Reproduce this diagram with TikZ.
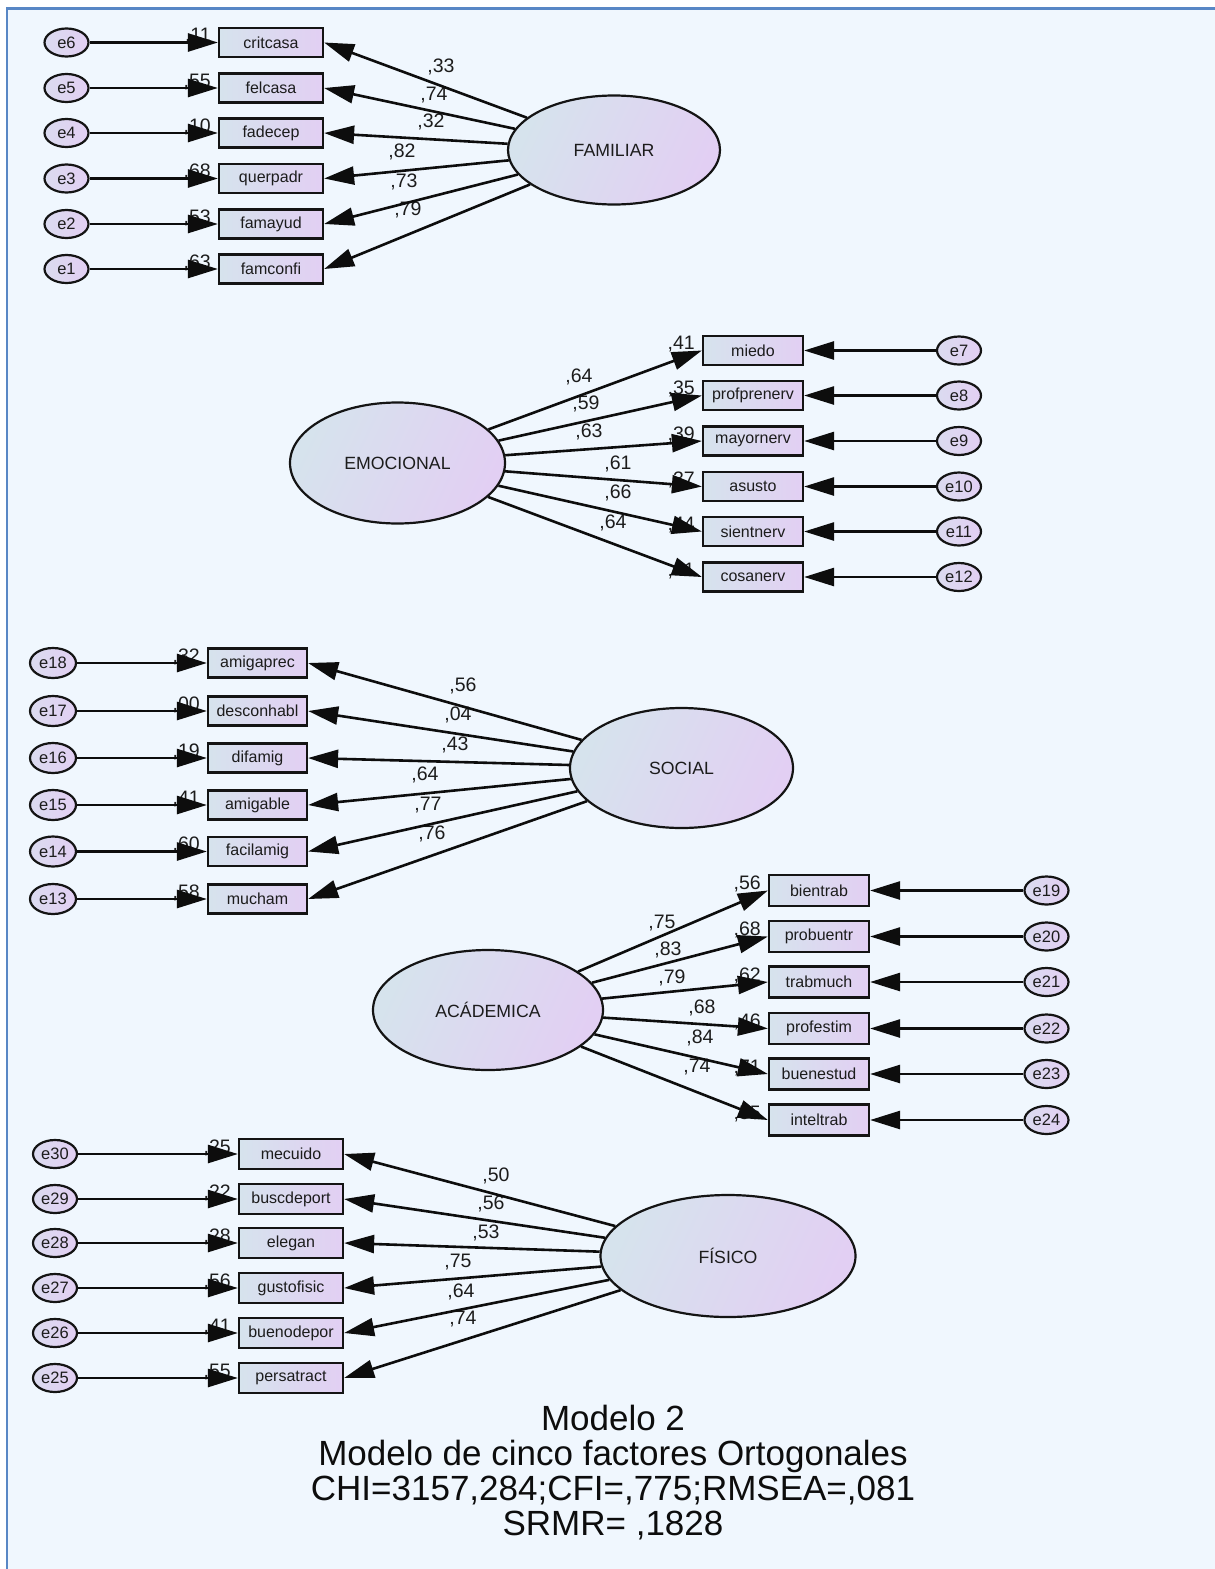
\documentclass[tikz,border=0pt]{standalone}
\usepackage{fontspec}
\setmainfont{Liberation Sans}
\usetikzlibrary{arrows.meta,shapes.geometric}
\definecolor{bg}{RGB}{240,247,254}
\definecolor{framecol}{RGB}{88,135,197}
\definecolor{shadeA}{RGB}{214,227,237}
\definecolor{shadeB}{RGB}{226,207,243}
\definecolor{ink}{RGB}{28,28,28}
\tikzset{
  obs/.style={rectangle, draw=black!92, line width=2.2pt, minimum width=104pt,
    minimum height=29pt, inner sep=0pt, shading=axis, left color=shadeA,
    right color=shadeB, text=ink, font=\fontsize{16}{18}\selectfont},
  lat/.style={ellipse, draw=black!92, line width=2.2pt, inner sep=0pt,
    shading=axis, left color=shadeA, right color=shadeB, shading angle=65,
    text=ink, font=\fontsize{17.7}{20}\selectfont},
  err/.style={ellipse, draw=black!92, line width=2.2pt, inner sep=0pt,
    minimum width=44pt, minimum height=28pt, shading=axis,
    left color=shadeA!60!shadeB, right color=shadeB, text=ink,
    font=\fontsize{16.5}{18}\selectfont},
  arr/.style={-{Triangle[length=30pt,width=18pt]}, line width=2.6pt, draw=black!95},
  ld/.style={anchor=base, inner sep=0pt, text=ink, font=\fontsize{19.5}{22}\selectfont},
  rsq/.style={anchor=base east, inner sep=0pt, xshift=-7pt, yshift=1pt, text=ink,
    font=\fontsize{19.5}{22}\selectfont},
  ttl/.style={anchor=base, inner sep=0pt, text=black!95, font=\fontsize{35}{40}\selectfont}
}
\begin{document}
\begin{tikzpicture}[x=1pt,y=-1pt]
\useasboundingbox (0,0) rectangle (1215,1569);
% canvas and frame
\fill[white] (0,0) rectangle (1215,1569);
\fill[bg] (7,8.5) rectangle (1215,1569);
\draw[framecol, line width=2.2pt] (7,1569) -- (7,8.5) -- (1215,8.5);

% ---------- FAMILIAR ----------
\node[lat, minimum width=212pt, minimum height=109pt] (fam) at (614,150) {FAMILIAR};
\node[obs] (f1) at (271,42.5) {critcasa};
\node[obs] (f2) at (271,88) {felcasa};
\node[obs] (f3) at (271,133) {fadecep};
\node[obs] (f4) at (271,178.5) {querpadr};
\node[obs] (f5) at (271,224) {famayud};
\node[obs] (f6) at (271,269) {famconfi};
\node[err] (e6) at (66.5,42.5) {e6};
\node[err] (e5) at (66.5,88) {e5};
\node[err] (e4) at (66.5,133) {e4};
\node[err] (e3) at (66.5,178.5) {e3};
\node[err] (e2) at (66.5,224) {e2};
\node[err] (e1) at (66.5,269) {e1};
\node[rsq] (rf1) at (f1.west) {,11};
\node[rsq] (rf2) at (f2.west) {,55};
\node[rsq] (rf3) at (f3.west) {,10};
\node[rsq] (rf4) at (f4.west) {,68};
\node[rsq] (rf5) at (f5.west) {,53};
\node[rsq] (rf6) at (f6.west) {,63};
\node[ld] (lf1) at (441,72) {,33};
\node[ld] (lf2) at (434,100) {,74};
\node[ld] (lf3) at (431,127) {,32};
\node[ld] (lf4) at (402,157) {,82};
\node[ld] (lf5) at (404,187) {,73};
\node[ld] (lf6) at (408,215) {,79};
\foreach \b in {f1,f2,f3,f4,f5,f6} \draw[arr] (fam) -- (\b.east);
\draw[arr] (e6) -- (f1);
\draw[arr] (e5) -- (f2);
\draw[arr] (e4) -- (f3);
\draw[arr] (e3) -- (f4);
\draw[arr] (e2) -- (f5);
\draw[arr] (e1) -- (f6);

% ---------- EMOCIONAL ----------
\node[lat, minimum width=215pt, minimum height=121pt] (emo) at (397.5,463) {EMOCIONAL};
\node[obs, minimum width=100pt] (m1) at (753,350.5) {miedo};
\node[obs, minimum width=100pt] (m2) at (753,395.5) {profprenerv};
\node[obs, minimum width=100pt] (m3) at (753,441) {mayornerv};
\node[obs, minimum width=100pt] (m4) at (753,486.5) {asusto};
\node[obs, minimum width=100pt] (m5) at (753,531.5) {sientnerv};
\node[obs, minimum width=100pt] (m6) at (753,577) {cosanerv};
\node[err] (e7) at (959,350.5) {e7};
\node[err] (e8) at (959,395.5) {e8};
\node[err] (e9) at (959,441) {e9};
\node[err] (e10) at (959,486.5) {e10};
\node[err] (e11) at (959,531.5) {e11};
\node[err] (e12) at (959,577) {e12};
\node[rsq] (rm1) at (m1.west) {,41};
\node[rsq] (rm2) at (m2.west) {,35};
\node[rsq] (rm3) at (m3.west) {,39};
\node[rsq] (rm4) at (m4.west) {,37};
\node[rsq] (rm5) at (m5.west) {,44};
\node[rsq] (rm6) at (m6.west) {,41};
\node[ld] (lm1) at (579,382) {,64};
\node[ld] (lm2) at (586,409) {,59};
\node[ld] (lm3) at (589,437) {,63};
\node[ld] (lm4) at (618,469) {,61};
\node[ld] (lm5) at (618,498) {,66};
\node[ld] (lm6) at (613,528) {,64};
\foreach \b in {m1,m2,m3,m4,m5,m6} \draw[arr] (emo) -- (\b.west);
\draw[arr] (e7) -- (m1);
\draw[arr] (e8) -- (m2);
\draw[arr] (e9) -- (m3);
\draw[arr] (e10) -- (m4);
\draw[arr] (e11) -- (m5);
\draw[arr] (e12) -- (m6);

% ---------- SOCIAL ----------
\node[lat, minimum width=223pt, minimum height=120pt] (soc) at (681.5,768) {SOCIAL};
\node[obs, minimum width=99pt] (s1) at (257.5,663) {amigaprec};
\node[obs, minimum width=99pt] (s2) at (257.5,711) {desconhabl};
\node[obs, minimum width=99pt] (s3) at (257.5,758) {difamig};
\node[obs, minimum width=99pt] (s4) at (257.5,805) {amigable};
\node[obs, minimum width=99pt] (s5) at (257.5,851.5) {facilamig};
\node[obs, minimum width=99pt] (s6) at (257.5,899) {mucham};
\node[err, minimum width=46pt, minimum height=30pt] (e18) at (53,663) {e18};
\node[err, minimum width=46pt, minimum height=30pt] (e17) at (53,711) {e17};
\node[err, minimum width=46pt, minimum height=30pt] (e16) at (53,758) {e16};
\node[err, minimum width=46pt, minimum height=30pt] (e15) at (53,805) {e15};
\node[err, minimum width=46pt, minimum height=30pt] (e14) at (53,851.5) {e14};
\node[err, minimum width=46pt, minimum height=30pt] (e13) at (53,899) {e13};
\node[rsq] (rs1) at (s1.west) {,32};
\node[rsq] (rs2) at (s2.west) {,00};
\node[rsq] (rs3) at (s3.west) {,19};
\node[rsq] (rs4) at (s4.west) {,41};
\node[rsq] (rs5) at (s5.west) {,60};
\node[rsq] (rs6) at (s6.west) {,58};
\node[ld] (ls1) at (463,691) {,56};
\node[ld] (ls2) at (458,720) {,04};
\node[ld] (ls3) at (455,750) {,43};
\node[ld] (ls4) at (425,780) {,64};
\node[ld] (ls5) at (428,810) {,77};
\node[ld] (ls6) at (432,839) {,76};
\foreach \b in {s1,s2,s3,s4,s5,s6} \draw[arr] (soc) -- (\b.east);
\draw[arr] (e18) -- (s1);
\draw[arr] (e17) -- (s2);
\draw[arr] (e16) -- (s3);
\draw[arr] (e15) -- (s4);
\draw[arr] (e14) -- (s5);
\draw[arr] (e13) -- (s6);

% ---------- ACADEMICA ----------
\node[lat, minimum width=230pt, minimum height=120pt] (aca) at (488,1010) {ACÁDEMICA};
\node[obs, minimum width=100pt, minimum height=31pt] (a1) at (819,890.5) {bientrab};
\node[obs, minimum width=100pt, minimum height=31pt] (a2) at (819,936.5) {probuentr};
\node[obs, minimum width=100pt, minimum height=31pt] (a3) at (819,982) {trabmuch};
\node[obs, minimum width=100pt, minimum height=31pt] (a4) at (819,1028.5) {profestim};
\node[obs, minimum width=100pt, minimum height=31pt] (a5) at (819,1074) {buenestud};
\node[obs, minimum width=100pt, minimum height=31pt] (a6) at (819,1120) {inteltrab};
\node[err] (e19) at (1046.5,890.5) {e19};
\node[err] (e20) at (1046.5,936.5) {e20};
\node[err] (e21) at (1046.5,982) {e21};
\node[err] (e22) at (1046.5,1028.5) {e22};
\node[err] (e23) at (1046.5,1074) {e23};
\node[err] (e24) at (1046.5,1120) {e24};
\node[rsq] (ra1) at (a1.west) {,56};
\node[rsq] (ra2) at (a2.west) {,68};
\node[rsq] (ra3) at (a3.west) {,62};
\node[rsq] (ra4) at (a4.west) {,46};
\node[rsq] (ra5) at (a5.west) {,71};
\node[rsq] (ra6) at (a6.west) {,55};
\node[ld] (la1) at (662,928) {,75};
\node[ld] (la2) at (668,955) {,83};
\node[ld] (la3) at (672,983) {,79};
\node[ld] (la4) at (702,1013) {,68};
\node[ld] (la5) at (700,1043) {,84};
\node[ld] (la6) at (697,1072) {,74};
\foreach \b in {a1,a2,a3,a4,a5,a6} \draw[arr] (aca) -- (\b.west);
\draw[arr] (e19) -- (a1);
\draw[arr] (e20) -- (a2);
\draw[arr] (e21) -- (a3);
\draw[arr] (e22) -- (a4);
\draw[arr] (e23) -- (a5);
\draw[arr] (e24) -- (a6);

% ---------- FISICO ----------
\node[lat, minimum width=255pt, minimum height=122pt] (fis) at (728,1256) {FÍSICO};
\node[obs, minimum height=30pt] (p1) at (291,1154) {mecuido};
\node[obs, minimum height=30pt] (p2) at (291,1199) {buscdeport};
\node[obs, minimum height=30pt] (p3) at (291,1243) {elegan};
\node[obs, minimum height=30pt] (p4) at (291,1288) {gustofisic};
\node[obs, minimum height=30pt] (p5) at (291,1333) {buenodepor};
\node[obs, minimum height=30pt] (p6) at (291,1378) {persatract};
\node[err] (e30) at (55,1154) {e30};
\node[err] (e29) at (55,1199) {e29};
\node[err] (e28) at (55,1243) {e28};
\node[err] (e27) at (55,1288) {e27};
\node[err] (e26) at (55,1333) {e26};
\node[err] (e25) at (55,1378) {e25};
\node[rsq] (rp1) at (p1.west) {,25};
\node[rsq] (rp2) at (p2.west) {,22};
\node[rsq] (rp3) at (p3.west) {,28};
\node[rsq] (rp4) at (p4.west) {,56};
\node[rsq] (rp5) at (p5.west) {,41};
\node[rsq] (rp6) at (p6.west) {,55};
\node[ld] (lp1) at (496,1181) {,50};
\node[ld] (lp2) at (491,1209) {,56};
\node[ld] (lp3) at (486,1238) {,53};
\node[ld] (lp4) at (458,1267) {,75};
\node[ld] (lp5) at (461,1297) {,64};
\node[ld] (lp6) at (463,1324) {,74};
\foreach \b in {p1,p2,p3,p4,p5,p6} \draw[arr] (fis) -- (\b.east);
\draw[arr] (e30) -- (p1);
\draw[arr] (e29) -- (p2);
\draw[arr] (e28) -- (p3);
\draw[arr] (e27) -- (p4);
\draw[arr] (e26) -- (p5);
\draw[arr] (e25) -- (p6);

% ---------- caption ----------
\node[ttl] (t1) at (613,1430) {Modelo 2};
\node[ttl] (t2) at (613,1465) {Modelo de cinco factores Ortogonales};
\node[ttl] (t3) at (613,1500) {CHI=3157,284;CFI=,775;RMSEA=,081};
\node[ttl] (t4) at (613,1535) {SRMR= ,1828};
\end{tikzpicture}
\end{document}
